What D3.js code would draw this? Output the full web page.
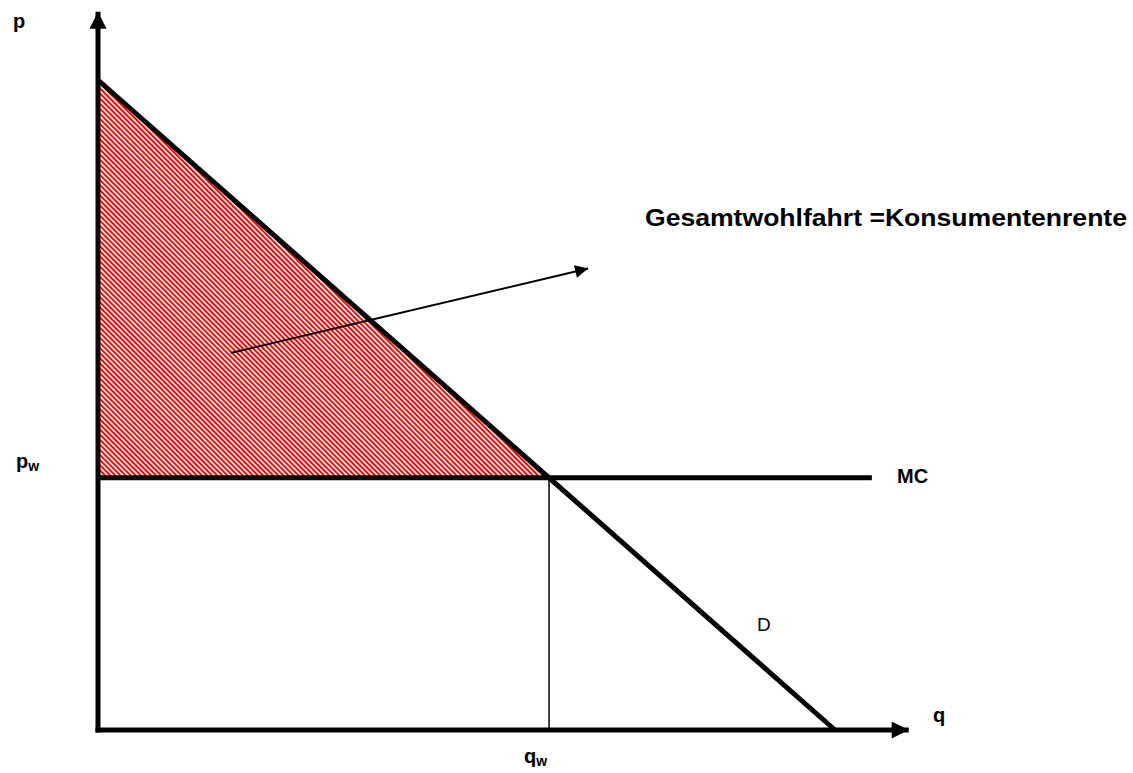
<!DOCTYPE html>
<html>
<head>
<meta charset="utf-8">
<script src="https://cdn.jsdelivr.net/npm/d3@7"></script>
<style>
  html, body { margin: 0; padding: 0; background: #fff; }
  text { font-family: "Liberation Sans", Arial, sans-serif; fill: #000; }
</style>
</head>
<body>
<div id="chart"></div>
<script>
// Model values (price p and quantity q in arbitrary units)
var demand = [{ q: 0, p: 100 }, { q: 100, p: 0 }];
var marginalCost = [{ q: 0, p: 38.8 }, { q: 105, p: 38.8 }];
var equilibrium = { q: 61.2, p: 38.8 };
var axisMax = { q: 110, p: 110.5 };
var surplus = [{ q: 0, p: 100 }, { q: 0, p: 38.8 }, { q: 61.2, p: 38.8 }];
var annotation = { text: "Gesamtwohlfahrt =Konsumentenrente", from: { q: 18, p: 58 }, to: { q: 66.5, p: 71 } };

var W = 1133, H = 773;
var x = d3.scaleLinear().domain([0, 100]).range([98, 835]);
var y = d3.scaleLinear().domain([0, 100]).range([730, 80]);

var svg = d3.select("#chart").append("svg")
    .attr("width", W)
    .attr("height", H);

var defs = svg.append("defs");

// Red / white diagonal hatch
var hatch = defs.append("pattern")
    .attr("id", "hatch")
    .attr("patternUnits", "userSpaceOnUse")
    .attr("width", 3.6)
    .attr("height", 3.6)
    .attr("patternTransform", "rotate(-45)");
hatch.append("rect").attr("width", 3.6).attr("height", 3.6).attr("fill", "#fff");
hatch.append("rect").attr("width", 2).attr("height", 3.6).attr("fill", "#ff0000");

defs.append("marker")
    .attr("id", "bigArrow")
    .attr("viewBox", "0 0 10 10")
    .attr("refX", 10).attr("refY", 5)
    .attr("markerUnits", "userSpaceOnUse")
    .attr("markerWidth", 18).attr("markerHeight", 17)
    .attr("orient", "auto")
    .append("path").attr("d", "M0,0L10,5L0,10Z").attr("fill", "#000");

defs.append("marker")
    .attr("id", "smallArrow")
    .attr("viewBox", "0 0 10 10")
    .attr("refX", 10).attr("refY", 5)
    .attr("markerUnits", "userSpaceOnUse")
    .attr("markerWidth", 17).attr("markerHeight", 13)
    .attr("orient", "auto")
    .append("path").attr("d", "M0,0L10,5L0,10Z").attr("fill", "#000");

var line = d3.line()
    .x(function (d) { return x(d.q); })
    .y(function (d) { return y(d.p); });

// Consumer surplus triangle
svg.append("path")
    .datum(surplus)
    .attr("d", line.curve(d3.curveLinearClosed))
    .attr("fill", "url(#hatch)");
line.curve(d3.curveLinear);

// Vertical guide at q_w
svg.append("line")
    .attr("x1", x(equilibrium.q)).attr("x2", x(equilibrium.q))
    .attr("y1", y(equilibrium.p)).attr("y2", y(0))
    .attr("stroke", "#000").attr("stroke-width", 1.5);

// MC line
svg.append("path")
    .datum(marginalCost)
    .attr("d", line)
    .attr("fill", "none").attr("stroke", "#000").attr("stroke-width", 5);

// Demand line
svg.append("path")
    .datum(demand)
    .attr("d", line)
    .attr("fill", "none").attr("stroke", "#000").attr("stroke-width", 5);

// Axes
svg.append("line")
    .attr("x1", x(0)).attr("x2", x(0))
    .attr("y1", y(0) + 2.5).attr("y2", y(axisMax.p))
    .attr("stroke", "#000").attr("stroke-width", 5)
    .attr("marker-end", "url(#bigArrow)");

svg.append("line")
    .attr("x1", x(0) - 2.5).attr("x2", x(axisMax.q))
    .attr("y1", y(0)).attr("y2", y(0))
    .attr("stroke", "#000").attr("stroke-width", 5)
    .attr("marker-end", "url(#bigArrow)");

// Annotation arrow
svg.append("line")
    .attr("x1", x(annotation.from.q)).attr("y1", y(annotation.from.p))
    .attr("x2", x(annotation.to.q)).attr("y2", y(annotation.to.p))
    .attr("stroke", "#000").attr("stroke-width", 2)
    .attr("marker-end", "url(#smallArrow)");

// Labels
function label(txt, sub, px, py, size, weight) {
    var t = svg.append("text")
        .attr("x", px).attr("y", py)
        .attr("font-size", size)
        .attr("font-weight", weight || "bold")
        .text(txt);
    if (sub) {
        t.append("tspan")
            .attr("font-size", size * 0.7)
            .attr("dy", 3)
            .text(sub);
    }
    return t;
}

label("p", null, 13, 28, 20);
label("p", "w", 16, 468, 20);
label("q", "w", 524, 763, 20);
label("q", null, 933, 722, 20);
label("MC", null, 897, 483, 20);
label("D", null, 757, 631, 19, "normal");

svg.append("text")
    .attr("x", 645).attr("y", 226)
    .attr("font-size", 23)
    .attr("font-weight", "bold")
    .attr("textLength", 482)
    .attr("lengthAdjust", "spacingAndGlyphs")
    .text(annotation.text);
</script>
</body>
</html>
